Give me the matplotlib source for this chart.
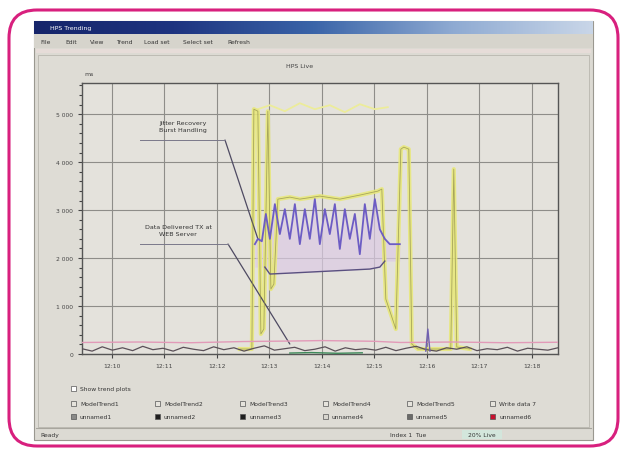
import numpy as np
import matplotlib
matplotlib.use("Agg")
import matplotlib.pyplot as plt
from matplotlib.patches import FancyBboxPatch, Rectangle
from matplotlib.colors import LinearSegmentedColormap

# ---------------- data ----------------
x_tick_pos = [0, 1, 2, 3, 4, 5, 6, 7, 8]
x_tick_labels = ["12:10", "12:11", "12:12", "12:13", "12:14", "12:15", "12:16", "12:17", "12:18"]
y_tick_pos = [0, 1000, 2000, 3000, 4000, 5000]
y_tick_labels = ["0", "1 000", "2 000", "3 000", "4 000", "5 000"]

purple_t = [2.724, 2.781, 2.857, 2.933, 3.010, 3.105, 3.200, 3.295, 3.390, 3.486,
            3.581, 3.676, 3.771, 3.867, 3.962, 4.057, 4.152, 4.248, 4.343, 4.438,
            4.533, 4.629, 4.724, 4.819, 4.914, 5.010, 5.105, 5.200, 5.295, 5.486]
purple_v = [2290, 2400, 2350, 2920, 2400, 3125, 2500, 3020, 2400, 3125,
            2290, 3020, 2400, 3230, 2290, 3020, 2500, 3125, 2190, 3020,
            2400, 2920, 2080, 3125, 2400, 3230, 2600, 2400, 2290, 2290]

web_t = [2.914, 3.010, 3.390, 3.771, 4.152, 4.533, 4.914, 5.105, 5.200]
web_v = [1812, 1667, 1687, 1708, 1729, 1750, 1771, 1812, 1937]

yellow_t = [2.438, 2.667, 2.705, 2.781, 2.838, 2.895, 2.971, 3.029, 3.086, 3.162,
            3.390, 3.581, 3.962, 4.343, 4.724, 5.067, 5.143, 5.219, 5.410, 5.505,
            5.562, 5.657, 5.714, 5.829, 6.248, 6.457, 6.514, 6.571, 6.819]
yellow_v = [104, 104, 5104, 5062, 417, 521, 5062, 1354, 1458, 3229,
            3271, 3229, 3292, 3229, 3313, 3396, 3438, 1146, 521, 4271,
            4313, 4271, 208, 104, 104, 104, 3854, 146, 104]

ytop_t = [2.781, 3.010, 3.295, 3.581, 3.867, 4.152, 4.438, 4.724, 5.010, 5.257]
ytop_v = [5104, 5187, 5062, 5229, 5104, 5187, 5042, 5208, 5104, 5146]

base_v = [110, 60, 150, 80, 130, 70, 160, 90, 120, 60, 140, 100, 70, 150, 90, 130,
          60, 120, 170, 80, 110, 140, 70, 100, 150, 60, 130, 90, 110, 80, 140, 70,
          120, 160, 90, 60, 130, 100, 150, 70, 110, 90, 140, 60, 120, 100, 80, 130]
pink_t = [-0.57, 0.5, 1.5, 2.5, 3.39, 4.0, 5.0, 5.5, 6.5, 7.5, 8.5]
pink_v = [240, 250, 235, 260, 270, 280, 265, 240, 250, 235, 245]
green_t = [3.39, 3.8, 4.3, 4.77]
green_v = [20, 30, 15, 25]
spike_t = [5.98, 6.02, 6.06]
spike_v = [60, 520, 60]

legend_row1 = ["ModelTrend1", "ModelTrend2", "ModelTrend3", "ModelTrend4", "ModelTrend5", "Write data 7"]
legend_row2 = ["unnamed1", "unnamed2", "unnamed3", "unnamed4", "unnamed5", "unnamed6"]
legend_colors = ["#8a8a88", "#1e1e1e", "#1e1e1e", "#d8d6cf", "#6a6a68", "#c8102e"]
menu_items = ["File", "Edit", "View", "Trend", "Load set", "Select set", "Refresh"]

# ---------------- figure ----------------
W, H = 624, 456
fig = plt.figure(figsize=(6.24, 4.56), dpi=100)
fig.patch.set_facecolor("white")

bg = fig.add_axes([0, 0, 1, 1])
bg.set_xlim(0, W)
bg.set_ylim(H, 0)
bg.axis("off")

# magenta rounded frame
bg.add_patch(FancyBboxPatch((9, 11), 609, 436, boxstyle="round,pad=0,rounding_size=28",
                            fill=False, ec="#d8207e", lw=2.2))
# window
bg.add_patch(Rectangle((34, 22), 559, 419, fc="#dcdad3", ec="#9a9890", lw=0.8))
grad = np.linspace(0, 1, 256).reshape(1, -1)
tcm = LinearSegmentedColormap.from_list("t", ["#16256a", "#1e3480", "#3a64a8", "#8eaad2", "#c9d6e8"])
bg.imshow(grad, cmap=tcm, extent=(34, 593, 35, 22), aspect="auto", zorder=2)
bg.text(50, 28.5, "HPS Trending", color="white", fontsize=4.5, va="center", zorder=3)
bg.add_patch(Rectangle((34, 35), 559, 14, fc="#d6d4cc", ec="none", zorder=2))
mx = 40
for m in menu_items:
    bg.text(mx, 42.5, m, fontsize=4.3, va="center", color="#333333", zorder=3)
    mx += 6 + len(m) * 3.3 + 6
bg.add_patch(Rectangle((36, 50), 555, 4, fc="#e6dcd8", ec="none", zorder=2))
bg.add_patch(Rectangle((38, 56), 551, 372, fc="#dedcd5", ec="#b8b6ae", lw=0.6, zorder=2))
bg.plot([36, 591], [429, 429], color="#a8a69e", lw=0.8, zorder=3)
# plot title & unit
bg.text(300, 67, "HPS Live", fontsize=4.5, ha="center", va="center", color="#444444", zorder=3)
bg.text(89, 74, "ms", fontsize=4.5, ha="center", va="center", color="#444444", zorder=3)

# legend area
bg.add_patch(Rectangle((71, 387), 5, 5, fc="white", ec="#555555", lw=0.5, zorder=3))
bg.text(80, 389.5, "Show trend plots", fontsize=4.3, va="center", color="#333333", zorder=3)
cols_x = [71, 155, 240, 323, 407, 490]
for cx, l1, l2, c in zip(cols_x, legend_row1, legend_row2, legend_colors):
    bg.add_patch(Rectangle((cx, 402), 5, 5, fc="#e6e4dd", ec="#555555", lw=0.5, zorder=3))
    bg.text(cx + 9, 404.5, l1, fontsize=4.3, va="center", color="#333333", zorder=3)
    bg.add_patch(Rectangle((cx, 415), 5, 5, fc=c, ec="#555555", lw=0.5, zorder=3))
    bg.text(cx + 9, 417.5, l2, fontsize=4.3, va="center", color="#333333", zorder=3)
# status bar
bg.text(40, 436, "Ready", fontsize=4.3, va="center", color="#333333", zorder=3)
bg.text(390, 436, "Index 1  Tue", fontsize=4.3, va="center", color="#333333", zorder=3)
bg.add_patch(Rectangle((462, 431), 40, 9, fc="#d3e6dc", ec="none", zorder=3))
bg.text(468, 436, "20% Live", fontsize=4.3, va="center", color="#333333", zorder=4)

# ---------------- main axes ----------------
L, R, T, B = 82, 558, 84, 355
ax = fig.add_axes([L / W, 1 - B / H, (R - L) / W, (B - T) / H])
ax.set_facecolor("#e4e2dc")
ax.set_xlim(-0.57, 8.5)
ax.set_ylim(0, 5650)
ax.set_xticks(x_tick_pos)
ax.set_xticklabels(x_tick_labels)
ax.set_yticks(y_tick_pos)
ax.set_yticklabels(y_tick_labels)
ax.set_yticks(np.arange(0, 5650, 200), minor=True)
ax.tick_params(axis="both", labelsize=4.3, colors="#444444", length=3, width=0.8)
ax.tick_params(axis="y", which="minor", length=2, width=0.8, color="#444444")
ax.grid(True, which="major", color="#8e8d89", lw=0.8)
for s in ax.spines.values():
    s.set_color("#555555")
    s.set_linewidth(1.0)

ax.fill_between(purple_t, purple_v, np.interp(purple_t, web_t, web_v, left=web_v[0], right=web_v[-1]),
                color="#dccbe4", alpha=0.7, lw=0, zorder=2)
ax.plot(ytop_t, ytop_v, color="#ecec9a", lw=1.3, zorder=3)
ax.plot(yellow_t, yellow_v, color="#e8e87c", lw=3.0, alpha=0.9, zorder=3)
ax.plot(yellow_t, yellow_v, color="#8c8a48", lw=0.6, alpha=0.7, zorder=4)
ax.plot(purple_t, purple_v, color="#6c5cc4", lw=1.3, zorder=5)
ax.plot(web_t, web_v, color="#5a5080", lw=1.0, zorder=5)
base_t = np.linspace(-0.57, 8.5, len(base_v))
ax.plot(pink_t, pink_v, color="#e29ab8", lw=1.0, zorder=4)
ax.plot(base_t, base_v, color="#5a5058", lw=0.9, zorder=5)
ax.plot(green_t, green_v, color="#3e8a5a", lw=1.0, zorder=6)
ax.plot(spike_t, spike_v, color="#7060b0", lw=1.0, zorder=6)

# annotations
ax.annotate("", xy=(purple_t[1], purple_v[1]), xycoords="data",
            xytext=(225, H - 141), textcoords="figure pixels",
            arrowprops=dict(arrowstyle="-", color="#4e4a62", lw=0.9, shrinkA=0, shrinkB=0),
            annotation_clip=False)
ax.annotate("", xy=(3.39, 208), xycoords="data",
            xytext=(228, H - 245), textcoords="figure pixels",
            arrowprops=dict(arrowstyle="-", color="#4e4a62", lw=0.9, shrinkA=0, shrinkB=0),
            annotation_clip=False)

ov = fig.add_axes([0, 0, 1, 1])
ov.set_xlim(0, W)
ov.set_ylim(H, 0)
ov.axis("off")
ov.patch.set_alpha(0)
ov.text(183, 127, "Jitter Recovery\nBurst Handling", fontsize=4.6, ha="center", va="center",
        color="#333333", linespacing=1.3)
ov.plot([140, 225], [141, 141], color="#7a788a", lw=0.7)
ov.text(178, 231, "Data Delivered TX at\nWEB Server", fontsize=4.6, ha="center", va="center",
        color="#333333", linespacing=1.3)
ov.plot([140, 228], [245, 245], color="#7a788a", lw=0.7)

fig.savefig("out.png", dpi=100)
